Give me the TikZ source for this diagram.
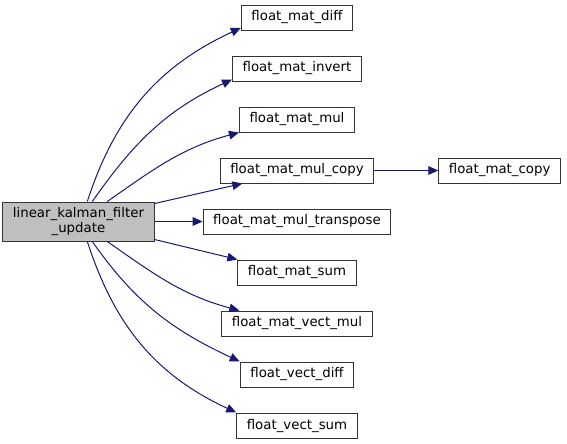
\documentclass[tikz,border=0pt]{standalone}
\usepackage{fontspec}
\setmainfont{DejaVu Sans}
\usetikzlibrary{arrows.meta, chains, positioning}
\definecolor{edgeblue}{HTML}{191970}
\tikzset{
  fn/.style={
    rectangle,
    minimum height=18.75pt,
    inner xsep=7.6pt,
    inner ysep=0pt,
    align=center,
    draw=black!80,
    line width=0.75pt,
    font=\fontsize{10}{11.5}\selectfont
  },
  current/.style={
    fn,
    minimum height=29.25pt,
    fill=black!25
  },
  call/.style={
    draw=edgeblue,
    line width=0.75pt,
    -{Triangle[length=7.5pt,width=6.5pt]}
  }
}
\begin{document}
\begin{tikzpicture}[
      x=0.75pt, y=-0.75pt,
      start chain=going below,
      node distance=18.75pt
      ]
      \useasboundingbox (0,0) rectangle (567,443);
      % callees, one column
      \node (diff) [fn, on chain] at (297,17.5) {float\_mat\_diff};
      \node (invert) [fn, on chain] {float\_mat\_invert};
      \node (mul) [fn, on chain] {float\_mat\_mul};
      \node (mcopy) [fn, on chain] {float\_mat\_mul\_copy};
      \node (trans) [fn, on chain] {float\_mat\_mul\_transpose};
      \node (sum) [fn, on chain] {float\_mat\_sum};
      \node (vmul) [fn, on chain] {float\_mat\_vect\_mul};
      \node (vdiff) [fn, on chain] {float\_vect\_diff};
      \node (vsum) [fn, on chain] {float\_vect\_sum};
      % caller and second level
      \node (main) [current, left=36pt of trans] {linear\_kalman\_filter\\\_update};
      \node (copy) [fn, right=48pt of mcopy] {float\_mat\_copy};

      \draw[call] ([xshift=63.75pt]main.north west) to[out=72, in=205] ([yshift=2pt]diff.south west);
      \draw[call] ([xshift=67.5pt]main.north west) to[out=55, in=205] ([yshift=1.5pt]invert.south west);
      \draw[call] ([xshift=78.75pt]main.north west) to[out=35, in=195] (mul.south west);
      \draw[call] ([yshift=-1.5pt]main.north east) -- ([xshift=17pt]mcopy.south west);
      \draw[call] (main.east) -- (trans.west);
      \draw[call] ([yshift=1.5pt]main.south east) -- (sum.north west);
      \draw[call] ([xshift=78.75pt]main.south west) to[out=-35, in=165] ([xshift=13.5pt]vmul.north west);
      \draw[call] ([xshift=67.5pt]main.south west) to[out=-55, in=155] (vdiff.north west);
      \draw[call] ([xshift=63.75pt]main.south west) to[out=-72, in=155] (vsum.north west);
      \draw[call] (mcopy.east) -- (copy.west);
\end{tikzpicture}
\end{document}
